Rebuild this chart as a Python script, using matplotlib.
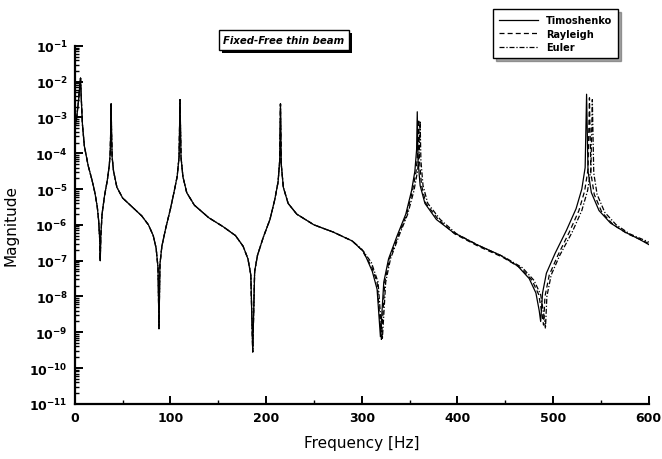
import matplotlib
matplotlib.use("Agg")
import matplotlib.pyplot as plt
import numpy as np
from matplotlib.ticker import LogLocator, MultipleLocator, NullFormatter
from matplotlib.patches import Rectangle

# ---- data, frequency in Hz, magnitude as log10 ----
# shared part (all three theories coincide below ~300 Hz)
freq_low = [0, 2, 4, 5.5, 6.0, 6.5, 8, 10, 14, 18, 21, 23.5, 25, 26, 26.6, 27.2,
            28.5, 31, 34, 36, 37, 37.6, 38, 38.4, 39, 40.5, 44, 50, 60, 70, 77,
            82, 85, 87, 88, 89, 91, 95, 100, 104, 107, 109, 110, 111, 113, 117,
            125, 140, 155, 168, 176, 181, 184, 186, 188, 191, 197, 204, 209,
            212.5, 214.2, 215, 215.8, 218, 223, 232, 250, 270, 290]
logmag_low = [-3.3, -3.0, -2.5, -2.0, -1.9, -2.3, -3.2, -3.8, -4.35, -4.75, -5.1,
              -5.5, -5.9, -6.4, -7.0, -6.3, -5.7, -5.2, -4.75, -4.35, -4.0, -3.3,
              -2.62, -3.4, -4.1, -4.5, -4.95, -5.25, -5.5, -5.75, -6.0, -6.3,
              -6.65, -7.2, -8.9, -7.1, -6.6, -6.1, -5.55, -5.05, -4.65, -4.1,
              -2.5, -4.1, -4.65, -5.1, -5.45, -5.8, -6.05, -6.3, -6.6, -6.95,
              -7.4, -9.55, -7.3, -6.85, -6.35, -5.85, -5.3, -4.8, -4.2, -2.62,
              -4.3, -4.95, -5.4, -5.7, -6.0, -6.2, -6.45]

# Timoshenko, upper band
timo_freq = [302, 311, 316, 319.5, 323, 328, 337, 346, 352, 355.5, 357.3, 358,
             358.8, 361, 366, 378, 395, 420, 445, 463, 475, 482, 485.5, 487,
             489, 493, 502, 514, 524, 530, 533.5, 535, 536.5, 540, 548, 560,
             575, 590, 600]
timo_log = [-6.75, -7.3, -7.8, -9.13, -7.6, -6.95, -6.3, -5.7, -5.05, -4.5, -3.9,
            -2.84, -4.2, -4.9, -5.4, -5.85, -6.2, -6.55, -6.85, -7.15, -7.5,
            -7.9, -8.4, -8.7, -7.9, -7.35, -6.8, -6.15, -5.55, -5.0, -4.4,
            -2.35, -4.5, -5.1, -5.6, -5.95, -6.2, -6.4, -6.55]

# Rayleigh, upper band
ray_freq = [300, 310, 316, 320.5, 324, 329, 338, 347, 353, 356.8, 358.7, 359.5,
            360.3, 362.5, 367, 380, 397, 422, 447, 466, 478, 485, 488.5, 490,
            491.5, 496, 505, 517, 527, 533, 536.5, 538, 539.5, 543, 551, 563,
            578, 592, 600]
ray_log = [-6.7, -7.15, -7.6, -9.2, -7.6, -6.95, -6.3, -5.7, -5.05, -4.5, -3.9,
           -3.05, -4.2, -4.9, -5.4, -5.85, -6.25, -6.6, -6.9, -7.2, -7.55, -7.95,
           -8.5, -8.8, -8.0, -7.4, -6.85, -6.2, -5.6, -5.05, -4.45, -2.45, -4.55,
           -5.15, -5.65, -6.0, -6.25, -6.42, -6.52]

# Euler, upper band
eul_freq = [300, 310, 317, 321.5, 325, 330, 339, 348, 354.5, 358.3, 360.2, 361,
            361.8, 364, 369, 382, 399, 424, 449, 468, 480, 487, 490.5, 492,
            493.5, 498, 507, 520, 530, 536, 539.5, 541, 542.5, 546, 554, 566,
            580, 593, 600]
eul_log = [-6.68, -7.05, -7.6, -9.2, -7.6, -6.95, -6.3, -5.7, -5.05, -4.5, -3.9,
           -3.1, -4.2, -4.9, -5.4, -5.85, -6.25, -6.6, -6.9, -7.2, -7.55, -7.95,
           -8.55, -8.9, -8.0, -7.4, -6.85, -6.2, -5.6, -5.05, -4.45, -2.5, -4.55,
           -5.15, -5.65, -6.0, -6.25, -6.4, -6.48]

series_names = ["Timoshenko", "Rayleigh", "Euler"]
title_text = "Fixed-Free thin beam"

plt.rcParams['font.family'] = ['DejaVu Sans']

fig = plt.figure(figsize=(6.62, 4.60), dpi=100)
ax = fig.add_axes([0.113, 0.120, 0.867, 0.778])

def full(fh, lh):
    f = np.array(freq_low + fh, dtype=float)
    m = 10.0 ** np.array(logmag_low + lh, dtype=float)
    return f, m

f, m = full(timo_freq, timo_log)
ax.plot(f, m, color='black', lw=0.9, ls='-', label=series_names[0], zorder=3)
f, m = full(ray_freq, ray_log)
ax.plot(f, m, color='black', lw=0.9, ls=(0, (4, 2.5)), label=series_names[1], zorder=2)
f, m = full(eul_freq, eul_log)
ax.plot(f, m, color='black', lw=0.9, ls=(0, (4, 1.5, 1, 1.5)), label=series_names[2], zorder=2)

ax.set_yscale('log')
ax.set_xlim(0, 600)
ax.set_ylim(1e-11, 1e-1)
ax.yaxis.set_major_locator(LogLocator(base=10, numticks=20))
ax.yaxis.set_minor_locator(LogLocator(base=10, subs=np.arange(2, 10), numticks=20))
ax.yaxis.set_minor_formatter(NullFormatter())
ax.xaxis.set_major_locator(MultipleLocator(100))
ax.xaxis.set_minor_locator(MultipleLocator(50))

for s in ['top', 'right']:
    ax.spines[s].set_visible(False)
for s in ['left', 'bottom']:
    ax.spines[s].set_linewidth(1.6)

ax.tick_params(axis='both', which='major', direction='in', length=6, width=1.4,
               labelsize=9, pad=5)
ax.tick_params(axis='both', which='minor', direction='in', length=3, width=1.0)
for lab in ax.get_yticklabels() + ax.get_xticklabels():
    lab.set_fontweight('bold')

ax.set_xlabel('Frequency [Hz]', fontsize=11, labelpad=8)
ax.set_ylabel('Magnitude', fontsize=11, labelpad=8)

# title box with drop shadow (shadow drawn as a plain rectangle)
title = fig.text(0.429, 0.911, title_text, ha='center', va='center',
                 fontsize=7.3, style='italic', fontweight='bold', color='black', zorder=5,
                 bbox=dict(boxstyle='square,pad=0.45', facecolor='white',
                           edgecolor='black', lw=1.0))

leg = ax.legend(loc='upper right', bbox_to_anchor=(0.941, 0.988),
                bbox_transform=fig.transFigure, fancybox=False, shadow=True,
                fontsize=7, handlelength=4.0, labelspacing=0.35,
                borderpad=0.6, frameon=True)
leg.get_frame().set_edgecolor('black')
leg.get_frame().set_linewidth(1.0)
for t in leg.get_texts():
    t.set_fontweight('bold')

fig.canvas.draw()
bb = title.get_bbox_patch().get_window_extent()
W, H = fig.bbox.width, fig.bbox.height
fig.patches.append(Rectangle(((bb.x0 + 3) / W, (bb.y0 - 3) / H), bb.width / W, bb.height / H,
                             transform=fig.transFigure, facecolor='black',
                             edgecolor='none', zorder=4))

fig.savefig('out.png', dpi=100)
